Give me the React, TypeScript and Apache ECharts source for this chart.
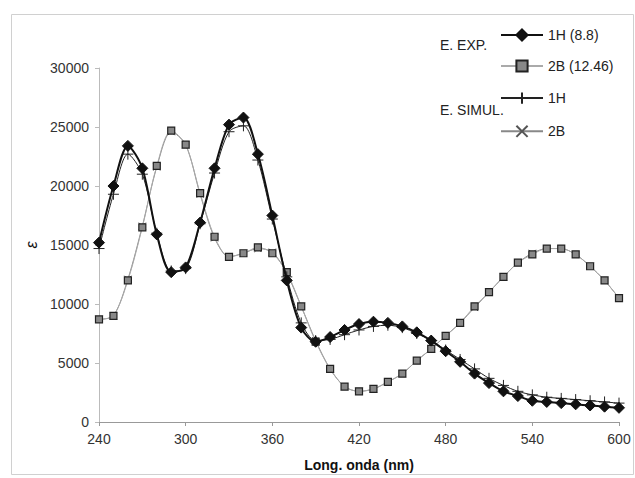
import React, { useEffect, useRef } from "react";
import * as echarts from "echarts";

const wavelengths = [240,250,260,270,280,290,300,310,320,330,340,350,360,370,380,390,400,410,420,430,440,450,460,470,480,490,500,510,520,530,540,550,560,570,580,590,600];
const exp1H = [15200,20000,23400,21500,15900,12700,13100,16900,21500,25200,25800,22700,17500,12000,8000,6800,7200,7800,8300,8500,8400,8100,7600,6900,6000,5100,4100,3300,2600,2200,1800,1700,1600,1500,1400,1300,1200];
const exp2B = [8700,9000,12000,16500,21700,24700,23500,19400,15700,14000,14300,14800,14300,12700,9800,6800,4500,3000,2600,2800,3400,4100,5200,6200,7300,8400,9800,11000,12300,13500,14200,14700,14700,14200,13200,12000,10500];
const sim1H = [14700,19300,22700,21000,16000,12800,13000,16800,21100,24600,25100,22200,17200,12300,8400,6900,7000,7400,7800,8100,8200,8000,7500,6900,6100,5300,4500,3700,3100,2600,2300,2100,2000,1900,1800,1700,1600];
const sim2B = [8700,9000,12100,16600,21600,24600,23500,19300,15600,14000,14300,14700,14400,12600,9800,6900,4500,3000,2600,2800,3400,4100,5200,6200,7300,8400,9700,11000,12300,13500,14300,14700,14700,14200,13200,12000,10500];
const seriesNames = ["1H (8.8)", "2B (12.46)", "1H", "2B"];
const groupLabels = ["E. EXP.", "E. SIMUL."];
const xTicks = { min: 240, max: 600, interval: 60 };
const yTicks = { min: 0, max: 30000, interval: 5000 };

const pair = (ys: number[]) => wavelengths.map((x, i) => [x, ys[i]]);

const PLUS = "path://M5,0L5,10M0,5L10,5";
const CROSS = "path://M0,0L10,10M10,0L0,10";

export default function App() {
  const ref = useRef<HTMLDivElement>(null);
  useEffect(() => {
    if (!ref.current) return;
    const chart = echarts.init(ref.current, undefined, { renderer: "svg" });
    const font = "'Liberation Sans', Arial, sans-serif";
    chart.setOption({
      animation: false,
      backgroundColor: "#fff",
      textStyle: { fontFamily: font },
      grid: { left: 99, right: 16, top: 68, bottom: 56, containLabel: false },
      legend: {
        orient: "vertical",
        left: 500,
        top: 28,
        padding: 0,
        itemWidth: 42,
        itemHeight: 14,
        itemGap: 17,
        textStyle: { fontSize: 14, color: "#222", fontFamily: font },
        data: seriesNames.map((n) => ({ name: n })),
      },
      graphic: [
        {
          type: "rect",
          left: 9,
          top: 12,
          shape: { x: 0, y: 0, width: 622, height: 460 },
          style: { fill: "none", stroke: "#d0d0d0", lineWidth: 1 },
          silent: true,
        },
        {
          type: "text",
          left: 440,
          top: 38,
          style: { text: groupLabels[0], fontSize: 14, fill: "#222", fontFamily: font },
        },
        {
          type: "text",
          left: 440,
          top: 103,
          style: { text: groupLabels[1], fontSize: 14, fill: "#222", fontFamily: font },
        },
      ],
      xAxis: {
        type: "value",
        min: xTicks.min,
        max: xTicks.max,
        interval: xTicks.interval,
        name: "Long. onda (nm)",
        nameLocation: "middle",
        nameGap: 36,
        nameTextStyle: { fontSize: 14, fontWeight: "bold", color: "#111", fontFamily: font },
        axisLine: { lineStyle: { color: "#999", width: 1 } },
        axisTick: { show: true, length: 4, lineStyle: { color: "#999" } },
        axisLabel: { fontSize: 14, color: "#333", margin: 10, fontFamily: font },
        splitLine: { show: false },
      },
      yAxis: {
        type: "value",
        min: yTicks.min,
        max: yTicks.max,
        interval: yTicks.interval,
        name: "ε",
        nameLocation: "middle",
        nameRotate: 90,
        nameGap: 58,
        nameTextStyle: { fontSize: 16, fontStyle: "italic", color: "#111", fontFamily: font },
        axisLine: { show: true, lineStyle: { color: "#bbb", width: 1 } },
        axisTick: { show: true, length: 4, lineStyle: { color: "#bbb" } },
        axisLabel: {
          fontSize: 14,
          color: "#333",
          margin: 10,
          fontFamily: font,
          formatter: (v: number) => String(v),
        },
        splitLine: { show: false },
      },
      series: [
        {
          name: seriesNames[3],
          type: "line",
          data: pair(sim2B),
          smooth: 0.3,
          symbol: CROSS,
          symbolSize: 7,
          lineStyle: { color: "#888", width: 1 },
          itemStyle: { color: "none", borderColor: "#555", borderWidth: 1 },
          z: 2,
        },
        {
          name: seriesNames[1],
          type: "line",
          data: pair(exp2B),
          smooth: 0.3,
          symbol: "rect",
          symbolSize: 7,
          lineStyle: { color: "#aaa", width: 1 },
          itemStyle: { color: "#888", borderColor: "#222", borderWidth: 1.2 },
          z: 3,
        },
        {
          name: seriesNames[2],
          type: "line",
          data: pair(sim1H),
          smooth: 0.3,
          symbol: PLUS,
          symbolSize: 11,
          lineStyle: { color: "#222", width: 1 },
          itemStyle: { color: "none", borderColor: "#222", borderWidth: 1 },
          z: 4,
        },
        {
          name: seriesNames[0],
          type: "line",
          data: pair(exp1H),
          smooth: 0.3,
          symbol: "diamond",
          symbolSize: 11,
          lineStyle: { color: "#111", width: 2 },
          itemStyle: { color: "#111", borderColor: "#111", borderWidth: 1 },
          z: 5,
        },
      ],
    });
    return () => chart.dispose();
  }, []);
  return (
    <div
      ref={ref}
      style={{ position: "fixed", left: 0, top: 0, width: 635, height: 478 }}
    />
  );
}
